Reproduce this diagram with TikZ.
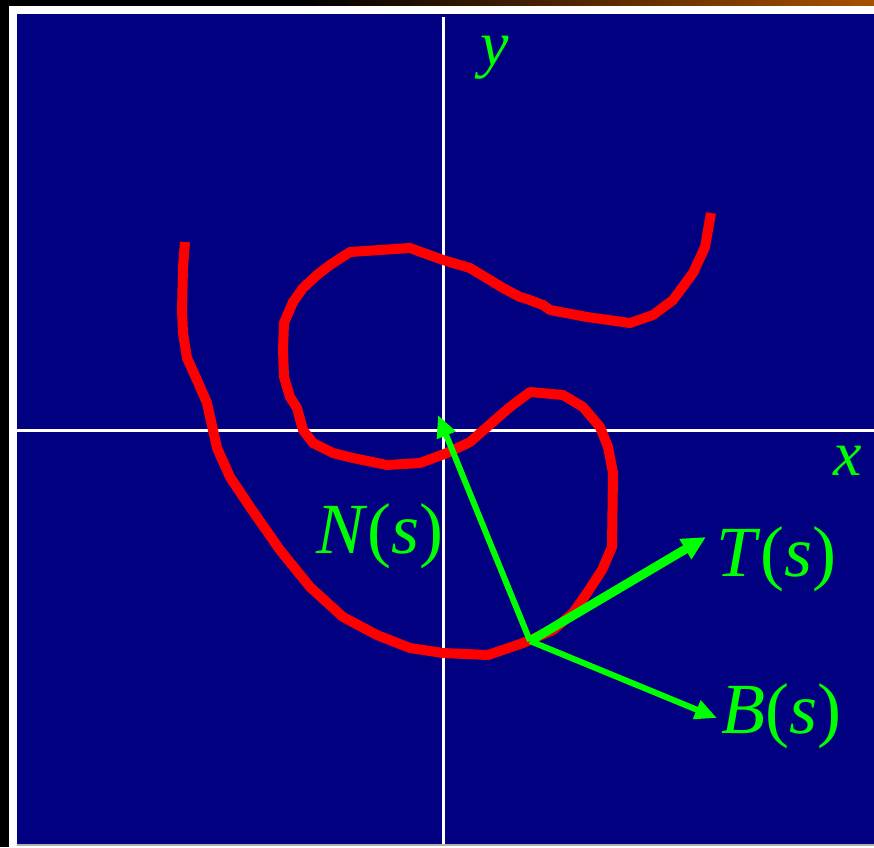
\documentclass[tikz,border=0pt]{standalone}
\usepackage{fontspec}
\setmainfont{Liberation Serif}
\usetikzlibrary{arrows.meta}
\definecolor{navy}{HTML}{000080}
\definecolor{topor}{HTML}{A85000}
\definecolor{vgreen}{HTML}{00FF00}
\definecolor{vred}{HTML}{FF0000}
\tikzset{
  axisline/.style={draw=white, line width=2.5pt},
  curveline/.style={draw=vred, line width=10pt, line join=round},
  vecthin/.style={draw=vgreen, line width=6pt, -{Triangle[length=22pt,width=19pt]}},
  vecthick/.style={draw=vgreen, line width=9pt, -{Triangle[length=24pt,width=22pt]}},
  biglabel/.style={text=vgreen, inner sep=0pt, anchor=base west, font=\fontsize{72}{80}\selectfont},
  axlabel/.style={text=vgreen, inner sep=0pt, anchor=base west, font=\fontsize{64}{70}\selectfont\itshape}
}
\begin{document}
\begin{tikzpicture}[x=1pt,y=-1pt]
\useasboundingbox (0,0) rectangle (874,847);
% background frame
\fill[black] (0,0) rectangle (874,847);
\shade[left color=black, right color=topor, shading=axis] (300,0) rectangle (874,6);
\fill[white] (9,6) rectangle (874,847);
\fill[gray!60] (17,844) rectangle (874,846);
\fill[navy] (17,14) rectangle (874,844);
% axes
\coordinate (ytop) at (443.5,17);
\coordinate (ybot) at (443.5,844);
\coordinate (xleft) at (17,430.5);
\coordinate (xright) at (874,430.5);
\draw[axisline] (ytop) -- (ybot);
\draw[axisline] (xleft) -- (xright);
% curve
\draw[curveline] (185,242) -- (183,267) -- (182,310) -- (183,333) -- (187,358) -- (197,380)
 -- (207,403) -- (213,430) -- (217,448) -- (230,477) -- (250,507) -- (280,550)
 -- (310,587) -- (343,617) -- (377,635) -- (410,648) -- (443,653) -- (488,655)
 -- (523,643) -- (553,630) -- (573,613) -- (587,593) -- (602,570) -- (612,547)
 -- (613,473) -- (608,447) -- (600,427) -- (583,407) -- (563,395) -- (530,392)
 -- (510,407) -- (487,427) -- (470,442) -- (447,453) -- (420,463) -- (387,465)
 -- (353,458) -- (333,453) -- (313,443) -- (303,430) -- (297,408) -- (290,397)
 -- (284,377) -- (283,350) -- (284,323) -- (293,302) -- (303,288) -- (317,275)
 -- (330,265) -- (350,252) -- (410,248) -- (443,260) -- (470,268) -- (503,288)
 -- (520,297) -- (527,299) -- (543,305) -- (550,310) -- (587,317) -- (630,323)
 -- (653,315) -- (673,300) -- (693,273) -- (705,247) -- (711,213);
% vectors
\coordinate (o) at (530,641);
\coordinate (ntip) at (438,415);
\coordinate (ttip) at (706,537);
\coordinate (btip) at (717,718);
\draw[vecthin] (o) -- (ntip);
\draw[vecthin] (o) -- (btip);
\draw[vecthick] (o) -- (ttip);
% labels
\node[biglabel] (nlab) at (316,553) {\textit{N}(\textit{s})};
\node[biglabel] (tlab) at (716,576) {\textit{T}(\textit{s})};
\node[biglabel] (blab) at (721,733) {\textit{B}(\textit{s})};
\node[axlabel] (xlab) at (833,475) {x};
\node[axlabel] (ylab) at (480,65) {y};
\end{tikzpicture}
\end{document}
